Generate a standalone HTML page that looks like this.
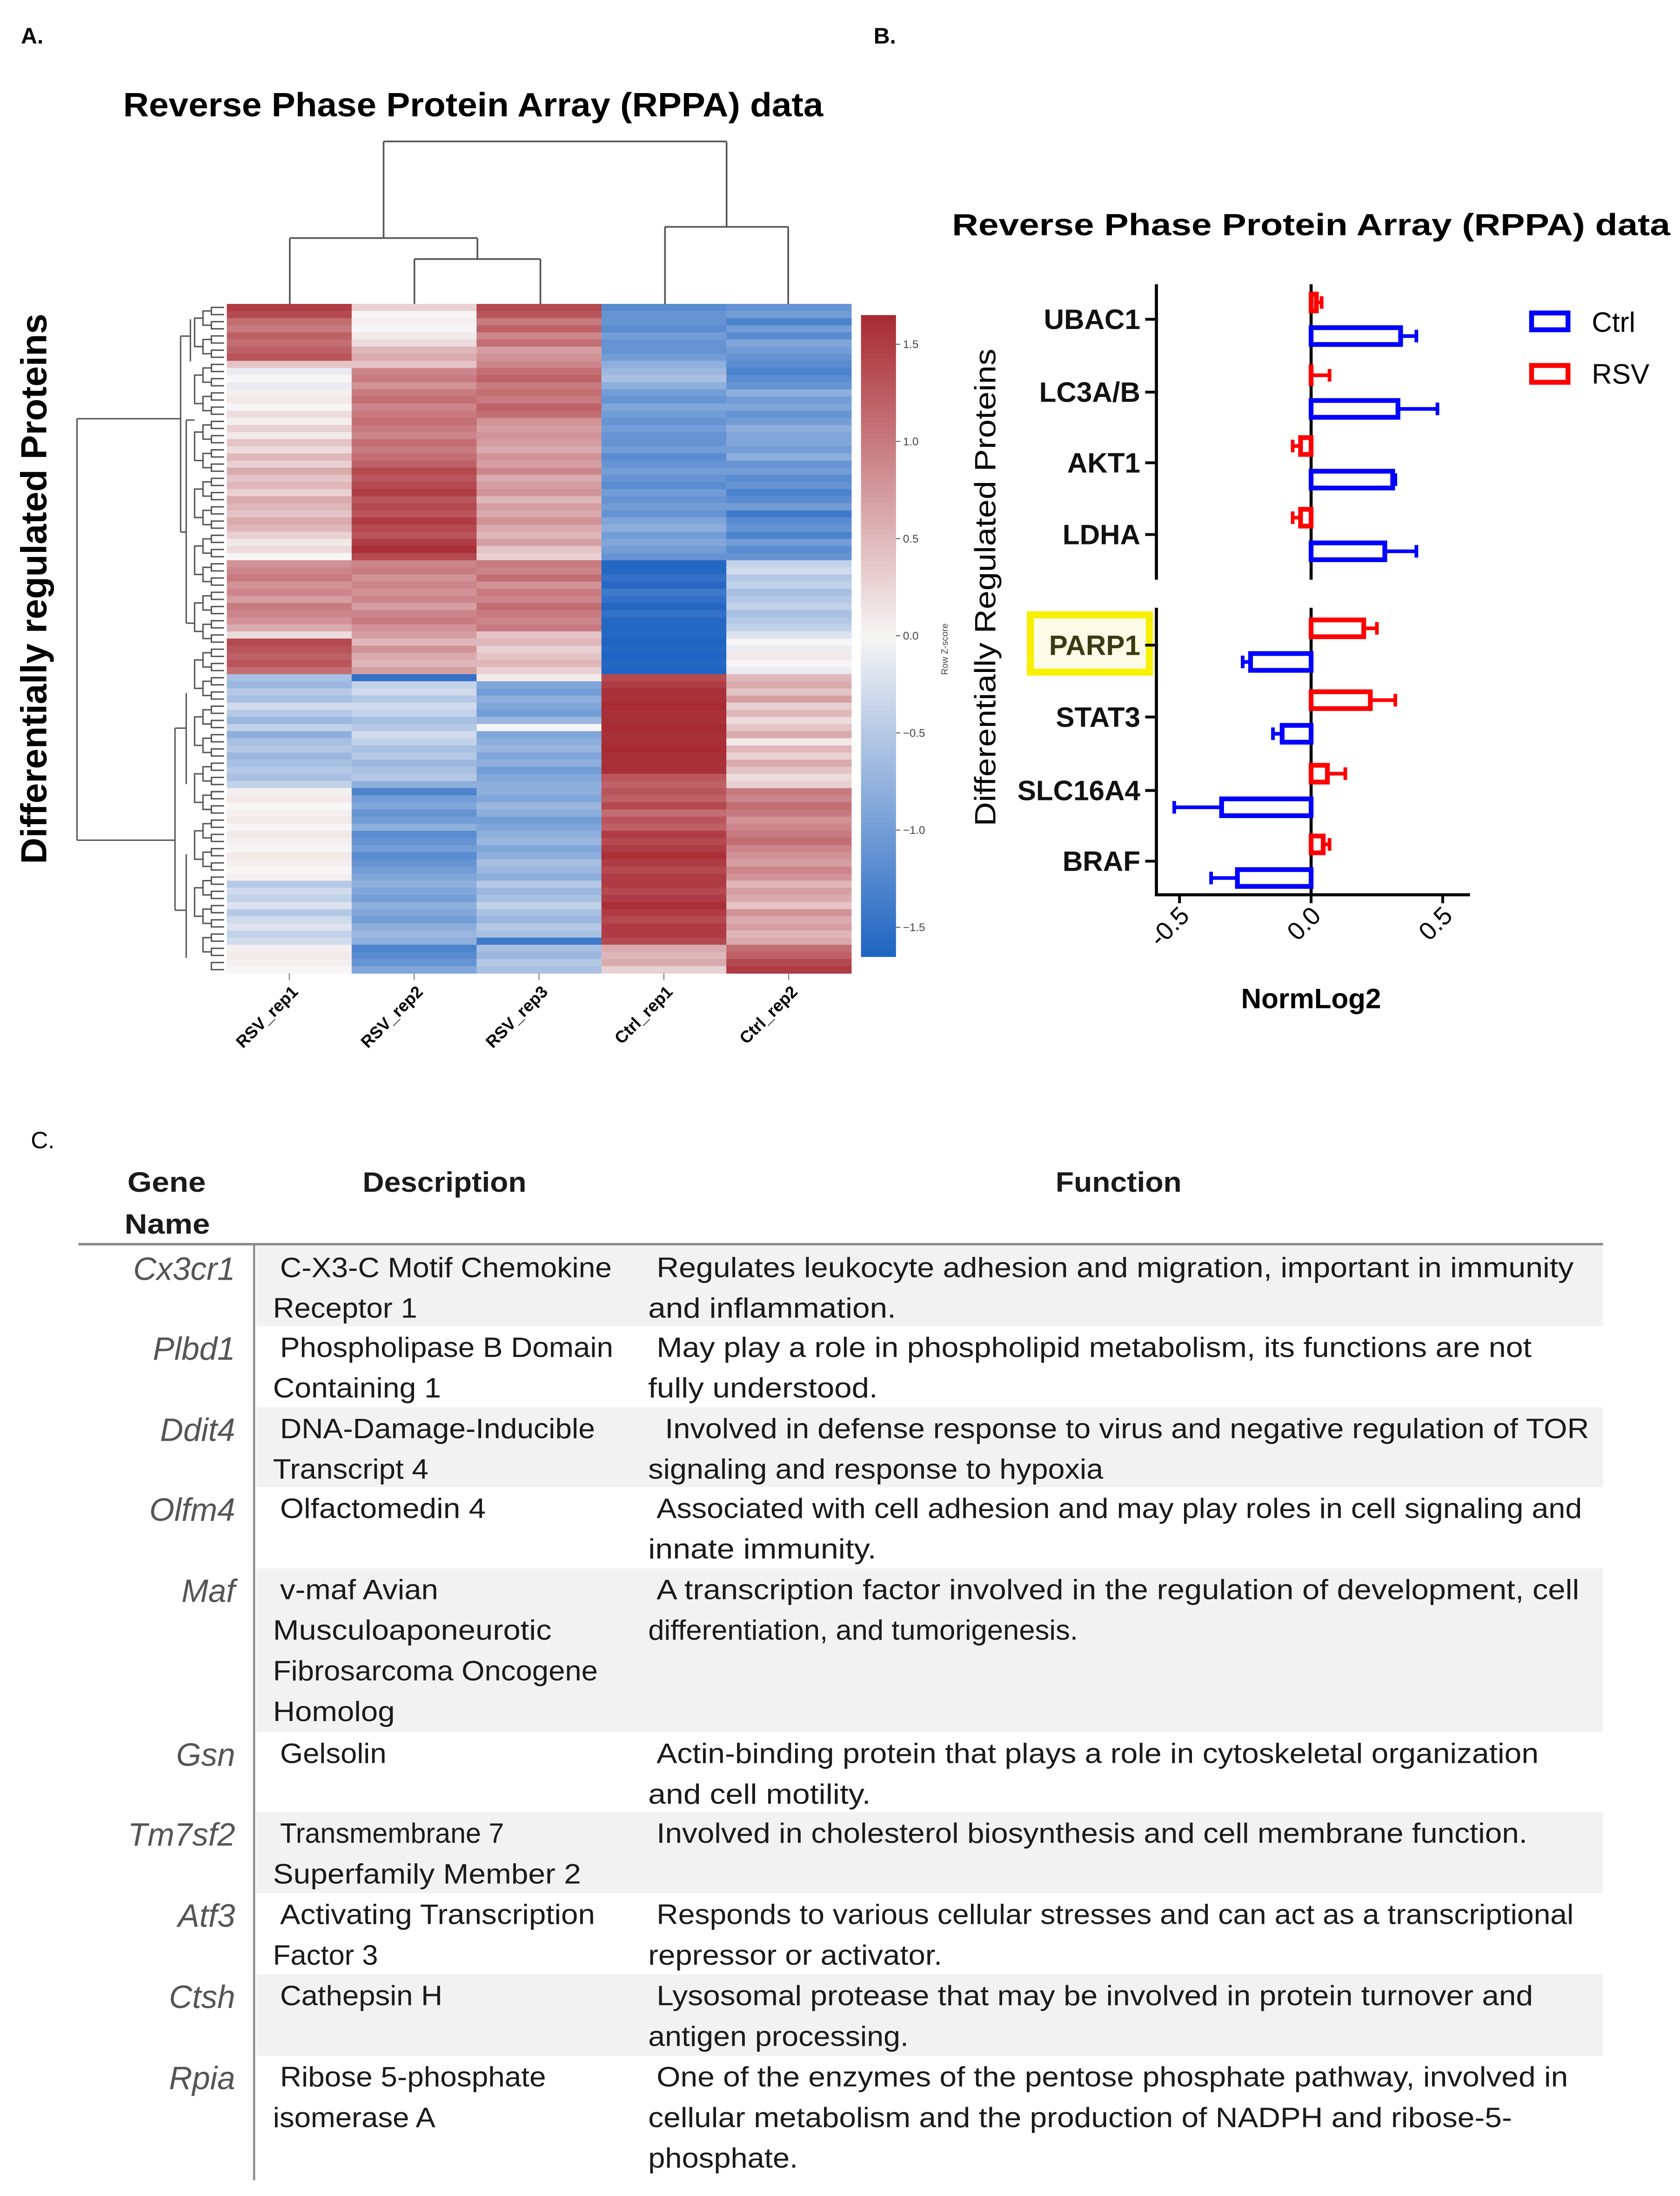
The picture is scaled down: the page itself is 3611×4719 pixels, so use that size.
<!DOCTYPE html>
<html><head><meta charset="utf-8"><style>
html,body{margin:0;padding:0;background:#fff;}
svg{display:block;}
text{font-family:"Liberation Sans",sans-serif;}
</style></head><body>
<svg id="root" width="3611" height="4719" viewBox="0 0 1200 1568.2" xmlns="http://www.w3.org/2000/svg">
<rect x="0" y="0" width="1200" height="1569" fill="#fff"/>
<text x="15" y="31" font-size="16" font-weight="bold">A.</text>
<text x="624" y="31" font-size="16" font-weight="bold">B.</text>
<text x="22" y="820" font-size="17">C.</text>

<text x="88" y="83" font-size="24" font-weight="bold" textLength="500" lengthAdjust="spacingAndGlyphs">Reverse Phase Protein Array (RPPA) data</text>
<text transform="translate(33,617) rotate(-90)" font-size="26" font-weight="bold" textLength="393" lengthAdjust="spacingAndGlyphs">Differentially regulated Proteins</text>
<g id="heatmap"></g>
<g id="rowdend" fill="none" stroke="#555" stroke-width="1"></g>
<g id="coldend" fill="none" stroke="#555" stroke-width="1.2">
<path d="M274 101 H519 M274 101 V170 M519 101 V162 M207 170 H341 M207 170 V217 M341 170 V185 M296 185 H386 M296 185 V217 M386 185 V217 M475 162 H563 M475 162 V217 M563 162 V217"/>
</g>
<g id="colorbar"></g>
<text transform="translate(677,482) rotate(-90)" font-size="6.5" fill="#444">Row Z-score</text>
<g id="collabels"></g>

<text x="680" y="168" font-size="22" font-weight="bold" textLength="513" lengthAdjust="spacingAndGlyphs">Reverse Phase Protein Array (RPPA) data</text>
<text transform="translate(711,590) rotate(-90)" font-size="21" textLength="341" lengthAdjust="spacingAndGlyphs">Differentially Regulated Proteins</text>
<rect x="736" y="439" width="85" height="41" fill="#fbfbe6" stroke="#f7f000" stroke-width="5"/>
<g id="bars"></g>
<text x="936.5" y="720" font-size="20" font-weight="bold" text-anchor="middle">NormLog2</text>
<g>
<rect x="1094" y="223.5" width="26" height="12" fill="none" stroke="#0000ff" stroke-width="3.5"/>
<text x="1137" y="237" font-size="20">Ctrl</text>
<rect x="1094" y="261" width="26" height="12" fill="none" stroke="#ff0000" stroke-width="3.5"/>
<text x="1137" y="274" font-size="20">RSV</text>
</g>

<g id="table"></g>
</svg>
<script>
const NS='http://www.w3.org/2000/svg';
function mk(p,tag,at){const e=document.createElementNS(NS,tag);for(const k in at)e.setAttribute(k,at[k]);p.appendChild(e);return e;}

// ---------- Heatmap data ----------
const hmColumns=['RSV_rep1','RSV_rep2','RSV_rep3','Ctrl_rep1','Ctrl_rep2'];
const hmRSV1=[1.5,1.4, 1.1,1.0,1.2,1.1, 1.2,1.3,0.4, -0.1,0.0,-0.1, 0.05,0.1,0.0,0.2,0.05,0.3,0.1, 0.4,0.2,0.5,0.3,0.6,0.4,0.5,0.3,0.6,0.5,0.4,0.6, 0.5,0.3,0.1,0.2,0.0, 0.8,0.9,1.0,0.8,0.9,0.7,1.0,0.9,0.8,0.6, 0.2,1.4,1.3,1.2,1.3,1.1, -0.6,-0.7,-0.5,-0.6,-0.3,-0.5,-0.7,-0.4,-0.8,-0.6,-0.5,-0.7,-0.6,-0.5,-0.6,-0.4, 0.05,0.1,0.0,0.05,0.1,0.0,0.1,0.05,0.0,0.1,0.05,0.0,0.05, -0.5,-0.3,-0.4,-0.2,-0.5,-0.3,-0.2,-0.4,-0.3, 0.05,0.1,0.05,0.0];
const hmRSV2=[0.3,0.0, 0.05,0.0,0.1,0.2, 0.5,0.6,0.4, 0.9,1.0,0.8, 1.0,1.1,0.9,1.0,1.1,1.0,0.9, 1.1,1.0,1.1,1.2,1.4,1.3,1.4,1.5,1.3,1.4,1.3,1.5, 1.4,1.3,1.5,1.6,1.4, 0.9,1.0,0.8,0.9,0.8,0.9,0.7,0.9,1.0,0.8, 0.7,0.5,0.8,0.6,0.5,0.7, -1.5,-0.4,-0.3,-0.5,-0.3,-0.4,-0.6,-0.5,-0.3,-0.4,-0.6,-0.5,-0.7,-0.6,-0.5,-0.8, -1.3,-1.0,-0.9,-1.1,-1.0,-0.8,-1.2,-1.1,-1.0,-1.2,-1.1,-1.0,-0.9, -0.8,-0.9,-1.0,-0.8,-0.9,-1.0,-0.8,-0.7,-0.8, -1.3,-1.2,-1.1,-0.9];
const hmRSV3=[1.4,1.3, 1.0,1.2,0.9,1.1, 0.7,0.8,0.9, 1.1,1.2,1.0, 1.1,1.0,1.2,1.1,0.8,0.7,0.8, 0.7,0.6,0.8,0.7,0.9,0.6,0.7,0.8,0.5,0.7,0.6,0.8, 0.6,0.5,0.7,0.4,0.3, 1.0,0.9,1.1,0.8,1.0,0.9,1.1,1.0,0.9,1.0, 0.4,0.5,0.3,0.4,0.5,0.3, 0.1,-0.9,-1.0,-0.8,-0.9,-1.0,-0.7,0.0,-0.9,-0.8,-0.7,-0.9,-0.8,-1.0,-0.9,-0.8, -0.8,-0.9,-0.7,-0.8,-1.0,-0.9,-0.8,-0.7,-0.9,-0.8,-0.6,-0.7,-0.8, -0.5,-0.7,-0.6,-0.4,-0.6,-0.7,-0.5,-0.6,-1.4, -0.6,-0.7,-0.5,-0.6];
const hmCtrl1=[-1.2,-1.1, -1.1,-1.2,-1.0,-1.1, -1.1,-1.0,-0.8, -0.7,-0.6,-0.8, -1.0,-1.1,-0.9,-1.0,-1.1,-1.0,-1.1, -1.1,-1.0,-1.2,-1.1,-1.0,-1.1,-1.2,-1.0,-1.1,-1.0,-1.1,-0.9, -0.8,-1.0,-0.9,-1.0,-1.1, -1.6,-1.6,-1.5,-1.6,-1.4,-1.5,-1.6,-1.5,-1.6,-1.6, -1.6,-1.7,-1.6,-1.7,-1.6,-1.7, 1.4,1.5,1.6,1.6,1.7,1.6,1.6,1.7,1.6,1.6,1.7,1.6,1.6,1.6,1.3,1.2, 1.3,1.2,1.4,1.1,1.3,1.2,1.5,1.4,1.5,1.6,1.5,1.4,1.5, 1.5,1.4,1.5,1.6,1.5,1.4,1.5,1.5,1.4, 0.6,0.5,0.6,0.3];
const hmCtrl2=[-1.1,-1.0, -1.3,-1.0,-1.2,-0.9, -1.0,-1.1,-1.2, -1.3,-1.2,-1.1, -0.8,-1.0,-0.9,-1.1,-1.0,-0.8,-0.9, -0.9,-1.0,-0.8,-1.1,-1.0,-1.2,-1.1,-1.3,-1.2,-1.0,-1.4,-1.2, -1.1,-1.3,-1.0,-1.2,-1.1, -0.4,-0.3,-0.5,-0.4,-0.6,-0.5,-0.4,-0.6,-0.5,-0.4, -0.2,0.0,-0.1,0.1,0.0,-0.1, 0.5,0.6,0.4,0.7,0.3,0.5,0.2,0.4,0.6,0.1,0.5,0.3,0.6,0.4,0.2,0.3, 1.0,0.9,1.1,1.0,0.8,0.9,1.0,1.1,0.9,0.8,0.7,0.9,0.8, 0.5,0.7,0.6,0.4,0.8,0.6,0.7,0.5,0.6, 1.1,1.2,1.4,1.5];
const cbTicks=[1.5,1.0,0.5,0.0,-0.5,-1.0,-1.5];
const hmSeries=[hmRSV1,hmRSV2,hmRSV3,hmCtrl1,hmCtrl2];

const HM={x0:162,x1:608,y0:217,y1:695};
const nRows=hmRSV1.length, colW=(HM.x1-HM.x0)/hmColumns.length, rowH=(HM.y1-HM.y0)/nRows;
function zcolor(v){let t=Math.max(-1,Math.min(1,v/1.65));const w=[247,245,245];const r=[168,42,50];const b=[30,100,194];const c=t>=0?r:b;t=Math.abs(t);
return 'rgb('+w.map((x,i)=>Math.round(x+(c[i]-x)*t)).join(',')+')';}
const hm=document.getElementById('heatmap');
hmSeries.forEach((ser,ci)=>{ser.forEach((v,ri)=>{
 const r=mk(hm,'rect',{x:HM.x0+ci*colW,y:HM.y0+ri*rowH,width:colW+0.3,height:rowH+0.3,fill:zcolor(v)});
 
 
});});
// column labels
const cl=document.getElementById('collabels');
hmColumns.forEach((c,i)=>{const cc=HM.x0+(i+0.5)*colW;
 mk(cl,'line',{x1:cc,x2:cc,y1:HM.y1,y2:HM.y1+5,stroke:'#666','stroke-width':0.6});
 const t=mk(cl,'text',{transform:'translate('+(cc+7)+','+(HM.y1+14)+') rotate(-45)','text-anchor':'end','font-size':'12','font-weight':'bold'});t.textContent=c;
 
 
});
// colorbar
const cb=document.getElementById('colorbar');
const CB={x:615,w:25,y0:225,y1:683,vmax:1.65};
const cbY=v=>CB.y0+(CB.vmax-v)/(2*CB.vmax)*(CB.y1-CB.y0);
for(let i=0;i<120;i++){const v=CB.vmax-(i+0.5)*(2*CB.vmax)/120;const r=mk(cb,'rect',{x:CB.x,y:CB.y0+i*(CB.y1-CB.y0)/120,width:CB.w,height:(CB.y1-CB.y0)/120+0.4,fill:zcolor(v)});
 
 }
cbTicks.forEach(v=>{const y=cbY(v);mk(cb,'line',{x1:CB.x+CB.w,x2:CB.x+CB.w+3,y1:y,y2:y,stroke:'#444','stroke-width':0.6});
 const t=mk(cb,'text',{x:CB.x+CB.w+5,y:y+2.8,'font-size':'8',fill:'#444'});t.textContent=(v<0?'\u2212'+(-v).toFixed(1):v.toFixed(1));
 
 });
// row dendrogram
const rd=document.getElementById('rowdend');
const rc=i=>HM.y0+(i+0.5)*rowH;
let d='';
for(let i=0;i+1<nRows;i+=2){const a=rc(i),b=rc(i+1);d+=`M160 ${a} H151 V${b} H160 `;}
for(let i=0;i+3<nRows;i+=4){const a=(rc(i)+rc(i+1))/2,b=(rc(i+2)+rc(i+3))/2;d+=`M151 ${a} H145 V${b} H151 `;}
for(let i=0;i+7<nRows;i+=8){const a=(rc(i)+rc(i+3))/2,b=(rc(i+4)+rc(i+7))/2;d+=`M145 ${a} H139 V${b} H145 `;}
d+='M55 299 H129 M55 299 V600 M55 600 H125 M129 240 V380 M129 240 H136 M129 380 H133 M136 228 V258 M133 300 V445 M133 300 H139 M133 445 H139 M125 520 V650 M125 520 H133 M125 650 H133 M133 495 V560 M133 610 V684';
mk(rd,'path',{d:d});

// ---------- Bar chart data ----------
const barCategories=['UBAC1','LC3A/B','AKT1','LDHA','PARP1','STAT3','SLC16A4','BRAF'];
const rsvValues=[0.02,0.0,-0.04,-0.04,0.20,0.225,0.062,0.046];
const rsvErrors=[0.02,0.07,0.03,0.03,0.05,0.095,0.068,0.024];
const ctrlValues=[0.34,0.33,0.31,0.28,-0.23,-0.11,-0.34,-0.28];
const ctrlErrors=[0.06,0.15,0.01,0.12,0.03,0.035,0.18,0.10];
const xTicks=[-0.5,0.0,0.5];
const xTickLabels=['-0.5','0.0','0.5'];

const BX={zero:936.5,scale:188,left:826,right:1050};
const xs=v=>BX.zero+v*BX.scale;
const catY=[228,280,330.5,381.7,460.7,512,564.5,615];
const bg=document.getElementById('bars');
mk(bg,'path',{d:`M${BX.left} 203 V414 M${BX.left} 434 V639 H${BX.right}`,stroke:'#000','stroke-width':2.2,fill:'none'});
mk(bg,'path',{d:`M${xs(0)} 203 V414 M${xs(0)} 434 V639`,stroke:'#000','stroke-width':2.2,fill:'none'});
xTicks.forEach((v,i)=>{const x=xs(v);mk(bg,'line',{x1:x,x2:x,y1:639,y2:645,stroke:'#000','stroke-width':2});
 const t=mk(bg,'text',{transform:`translate(${x+8},${655}) rotate(-45)`,'text-anchor':'end','font-size':'18'});t.textContent=xTickLabels[i];
 
 });
barCategories.forEach((c,i)=>{const y=catY[i];
 mk(bg,'line',{x1:BX.left-8,x2:BX.left,y1:y,y2:y,stroke:'#000','stroke-width':2});
 const t=mk(bg,'text',{x:814.5,y:y+7,'text-anchor':'end','font-size':'20','font-weight':'bold',fill:c==='PARP1'?'#3a3a14':'#111'});t.textContent=c;
 
 
 [[rsvValues,rsvErrors,'#ff0000',-12,'bar-rsv'],[ctrlValues,ctrlErrors,'#0000ff',12,'bar-ctrl']].forEach(([vals,errs,col,off,nm])=>{
  const v=vals[i],e=errs[i],cy=y+off,h=12;
  const x0=Math.min(xs(0),xs(v)),w=Math.abs(xs(v)-xs(0));
  const r=mk(bg,'rect',{x:x0,y:cy-h/2,width:Math.max(w,0.01),height:h,fill:'#fff',stroke:col,'stroke-width':3.4});
  
  
  const sg=v<0?-1:1,xe=xs(v+sg*e);
  const eb=mk(bg,'path',{d:`M${xs(v)} ${cy} H${xe} M${xe} ${cy-4.5} V${cy+4.5}`,stroke:col,'stroke-width':2.6,fill:'none'});
  
  
 });
});

// ---------- Table ----------
const rowsT=[
 {g:'Cx3cr1',top:890,h:57,d:[['C-X3-C Motif Chemokine',237],['Receptor 1',103]],f:[['Regulates leukocyte adhesion and migration, important in immunity',655],['and inflammation.',177]]},
 {g:'Plbd1',top:947,h:58,d:[['Phospholipase B Domain',238],['Containing 1',120]],f:[['May play a role in phospholipid metabolism, its functions are not',625],['fully understood.',164]]},
 {g:'Ddit4',top:1005,h:57,d:[['DNA-Damage-Inducible',225],['Transcript 4',111]],f:[['Involved in defense response to virus and negative regulation of TOR',660,6],['signaling and response to hypoxia',325]]},
 {g:'Olfm4',top:1062,h:58,d:[['Olfactomedin 4',147]],f:[['Associated with cell adhesion and may play roles in cell signaling and',661],['innate immunity.',163]]},
 {g:'Maf',top:1120,h:117,d:[['v-maf Avian',113],['Musculoaponeurotic',199],['Fibrosarcoma Oncogene',232],['Homolog',87]],f:[['A transcription factor involved in the regulation of development, cell',659],['differentiation, and tumorigenesis.',307]]},
 {g:'Gsn',top:1237,h:57,d:[['Gelsolin',76]],f:[['Actin-binding protein that plays a role in cytoskeletal organization',630],['and cell motility.',159]]},
 {g:'Tm7sf2',top:1294,h:58,d:[['Transmembrane 7',160],['Superfamily Member 2',220]],f:[['Involved in cholesterol biosynthesis and cell membrane function.',622]]},
 {g:'Atf3',top:1352,h:58,d:[['Activating Transcription',225],['Factor 3',75]],f:[['Responds to various cellular stresses and can act as a transcriptional',655],['repressor or activator.',210]]},
 {g:'Ctsh',top:1410,h:58,d:[['Cathepsin H',116]],f:[['Lysosomal protease that may be involved in protein turnover and',626],['antigen processing.',186]]},
 {g:'Rpia',top:1468,h:92,d:[['Ribose 5-phosphate',190],['isomerase A',116]],f:[['One of the enzymes of the pentose phosphate pathway, involved in',651],['cellular metabolism and the production of NADPH and ribose-5-',617],['phosphate.',107]]}
];
const tb=document.getElementById('table');
function tx(x,y,s,len,extra){const t=mk(tb,'text',Object.assign({x:x,y:y,'font-size':'20',fill:'#1a1a1a',textLength:len,lengthAdjust:'spacingAndGlyphs'},extra||{}));t.textContent=s;return t;}
let hd;
hd=tx(91,851,'Gene',56,{'font-weight':'bold'});
hd=tx(89,881,'Name',61,{'font-weight':'bold'});
hd=tx(259,851,'Description',117,{'font-weight':'bold'});
hd=tx(754,851,'Function',90,{'font-weight':'bold'});
rowsT.forEach((r,i)=>{
 if(i%2===0){const b=mk(tb,'rect',{x:183,y:r.top,width:962,height:r.h,fill:'#f2f2f2'});
  
  }
 const g=mk(tb,'text',{x:168,y:r.top+24,'text-anchor':'end','font-size':'23','font-style':'italic',fill:'#555'});g.textContent=r.g;
 
 
 r.d.forEach((l,j)=>{const t=tx(j===0?200:195,r.top+22+j*29,l[0],l[1]);
  
  });
 r.f.forEach((l,j)=>{const t=tx(j===0?(469+(l[2]||0)):463,r.top+22+j*29,l[0],l[1]);
  
  });
});
mk(tb,'line',{x1:56,x2:1145,y1:888.5,y2:888.5,stroke:'#8c8c8c','stroke-width':1.8});
mk(tb,'line',{x1:181.5,x2:181.5,y1:889,y2:1557,stroke:'#8c8c8c','stroke-width':1.5});
</script>
</body></html>
